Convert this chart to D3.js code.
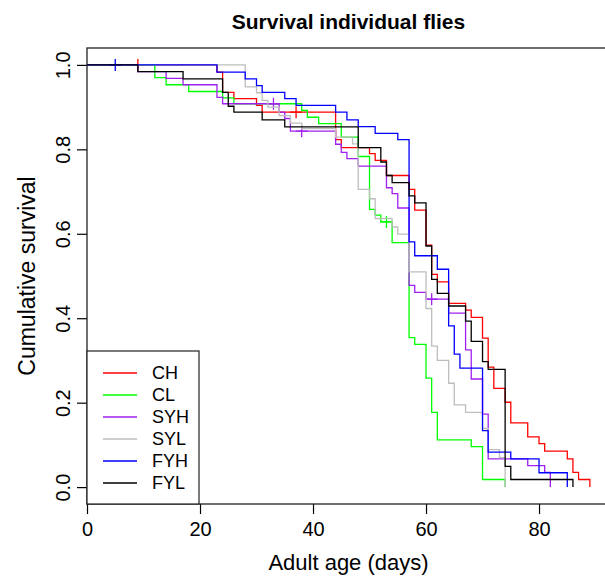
<!DOCTYPE html>
<html>
<head>
<meta charset="utf-8">
<script src="https://cdn.jsdelivr.net/npm/d3@7"></script>
<style>
  body { margin: 0; background: #fff; }
  text { font-family: "Liberation Sans", Arial, Helvetica, sans-serif; fill: #000; }
</style>
</head>
<body>
<div id="chart"></div>
<script>
// survival steps per group: [day, cumulative survival]
const groups = ['CH', 'CL', 'SYH', 'SYL', 'FYH', 'FYL'];
const colours = ['#ff0000', '#00ff00', '#a020f0', '#bebebe', '#0000ff', '#000000'];

const chSteps = [[0, 1], [23, 0.983], [24, 0.935], [26, 0.92], [30, 0.904], [31, 0.888], [44, 0.823], [45, 0.804],
  [50, 0.79], [51, 0.774], [53, 0.738], [57, 0.705], [58, 0.656], [60, 0.573], [61, 0.504], [62, 0.486],
  [64, 0.435], [67, 0.419], [68, 0.402], [70, 0.353], [71, 0.284], [72, 0.234], [74, 0.201], [75, 0.152],
  [78, 0.119], [80, 0.103], [81, 0.085], [85, 0.067], [86, 0.035], [87, 0.018], [89, 0]];
const clSteps = [[0, 1], [12, 0.97], [14, 0.953], [18, 0.937], [24, 0.922], [26, 0.908], [38, 0.892], [39, 0.876],
  [41, 0.861], [45, 0.829], [48, 0.783], [50, 0.658], [51, 0.644], [52, 0.628], [54, 0.579], [57, 0.354],
  [58, 0.338], [60, 0.258], [61, 0.177], [62, 0.112], [68, 0.096], [70, 0.018], [74, 0]];
const syhSteps = [[0, 1], [9, 0.984], [14, 0.968], [17, 0.953], [23, 0.923], [24, 0.908], [34, 0.888], [35, 0.873],
  [36, 0.843], [44, 0.812], [45, 0.793], [46, 0.778], [48, 0.76], [53, 0.709], [54, 0.695], [55, 0.661],
  [57, 0.478], [58, 0.461], [60, 0.445], [64, 0.412], [67, 0.325], [68, 0.256], [70, 0.173], [71, 0.067],
  [78, 0.051], [81, 0.035], [82, 0]];
const sylSteps = [[0, 1], [28, 0.948], [30, 0.934], [31, 0.916], [32, 0.9], [34, 0.88], [36, 0.862], [38, 0.849],
  [44, 0.829], [47, 0.813], [48, 0.705], [50, 0.683], [51, 0.636], [54, 0.616], [55, 0.599], [57, 0.51],
  [60, 0.423], [61, 0.334], [62, 0.3], [64, 0.246], [65, 0.195], [67, 0.177], [70, 0.139], [71, 0.089],
  [73, 0.07], [74, 0]];
const fyhSteps = [[0, 1], [23, 0.983], [28, 0.967], [30, 0.951], [31, 0.935], [35, 0.92], [37, 0.904], [44, 0.888],
  [46, 0.87], [48, 0.854], [51, 0.838], [55, 0.823], [57, 0.581], [58, 0.548], [62, 0.516], [64, 0.382],
  [65, 0.315], [66, 0.282], [70, 0.134], [71, 0.083], [75, 0.067], [80, 0.034], [85, 0]];
const fylSteps = [[0, 1], [9, 0.984], [17, 0.967], [24, 0.935], [25, 0.902], [26, 0.888], [31, 0.87], [35, 0.853],
  [48, 0.804], [52, 0.77], [53, 0.738], [54, 0.721], [57, 0.69], [58, 0.673], [60, 0.571], [61, 0.492],
  [62, 0.459], [64, 0.429], [67, 0.393], [68, 0.345], [70, 0.297], [71, 0.279], [74, 0.049], [75, 0.018], [86, 0]];

// censored flies (+ marks)
const chCensor = [[9, 1], [37, 0.888]];
const clCensor = [[53, 0.628]];
const syhCensor = [[33, 0.908], [38, 0.843], [61, 0.445]];
const sylCensor = [];
const fyhCensor = [[5, 1]];
const fylCensor = [];

const xTicks = [0, 20, 40, 60, 80];
const yTicks = [0, 0.2, 0.4, 0.6, 0.8, 1.0];

const allSteps = [chSteps, clSteps, syhSteps, sylSteps, fyhSteps, fylSteps];
const allCensor = [chCensor, clCensor, syhCensor, sylCensor, fyhCensor, fylCensor];

// ////////////////////////////////////////////////////////////////////////////
// SET UP
// ////////////////////////////////////////////////////////////////////////////
const width = 605;
const height = 577;
const box = { left: 87, right: 610, top: 48, bottom: 504 };

// survival plots start the x axis at 0 and pad 4% on the right
const xMax = 89 * 1.04;
const x = d3.scaleLinear().domain([0, xMax]).range([box.left, box.right]);
const y = d3.scaleLinear().domain([-0.04, 1.04]).range([box.bottom, box.top]);

const svg = d3.select('#chart').append('svg')
  .attr('width', width)
  .attr('height', height);

// title + axis labels
svg.append('text')
  .attr('x', (box.left + box.right) / 2)
  .attr('y', 29)
  .attr('text-anchor', 'middle')
  .style('font-size', '21px')
  .style('font-weight', 'bold')
  .text('Survival individual flies');

svg.append('text')
  .attr('x', (box.left + box.right) / 2)
  .attr('y', 570)
  .attr('text-anchor', 'middle')
  .style('font-size', '22px')
  .text('Adult age (days)');

svg.append('text')
  .attr('transform', `translate(35,${(box.top + box.bottom) / 2}) rotate(-90)`)
  .attr('text-anchor', 'middle')
  .style('font-size', '23px')
  .text('Cumulative survival');

// axes
const xAxis = svg.append('g')
  .attr('transform', `translate(0,${box.bottom})`)
  .call(d3.axisBottom(x).tickValues(xTicks).tickSize(10).tickPadding(8));
xAxis.select('.domain').remove();
xAxis.selectAll('text').style('font-size', '20px').attr('fill', '#000');

const yAxis = svg.append('g')
  .attr('transform', `translate(${box.left},0)`)
  .call(d3.axisLeft(y).tickValues(yTicks).tickFormat(d3.format('.1f')).tickSize(10));
yAxis.select('.domain').remove();
yAxis.selectAll('text')
  .attr('x', 0)
  .attr('dy', 0)
  .attr('transform', 'translate(-17,0) rotate(-90)')
  .attr('text-anchor', 'middle')
  .attr('fill', '#000')
  .style('font-size', '20px');
svg.selectAll('.tick line').attr('stroke', '#000').attr('stroke-width', 1.2);

// plot frame
svg.append('rect')
  .attr('x', box.left)
  .attr('y', box.top)
  .attr('width', box.right - box.left)
  .attr('height', box.bottom - box.top)
  .attr('fill', 'none')
  .attr('stroke', '#222')
  .attr('stroke-width', 1.3);

// ////////////////////////////////////////////////////////////////////////////
// CURVES
// ////////////////////////////////////////////////////////////////////////////
const stepLine = d3.line()
  .x(d => x(d[0]))
  .y(d => y(d[1]))
  .curve(d3.curveStepAfter);

allSteps.forEach((steps, i) => {
  svg.append('path')
    .datum(steps)
    .attr('d', stepLine)
    .attr('fill', 'none')
    .attr('stroke', colours[i])
    .attr('stroke-width', 1.3);

  // + marks for censored flies
  svg.selectAll(null)
    .data(allCensor[i])
    .enter()
    .append('path')
      .attr('d', d => {
        const cx = x(d[0]);
        const cy = y(d[1]);
        return `M${cx - 6},${cy}H${cx + 6}M${cx},${cy - 6}V${cy + 6}`;
      })
      .attr('stroke', colours[i])
      .attr('stroke-width', 1.3);
});

// ////////////////////////////////////////////////////////////////////////////
// LEGEND
// ////////////////////////////////////////////////////////////////////////////
const legend = svg.append('g');
legend.append('rect')
  .attr('x', box.left)
  .attr('y', 351)
  .attr('width', 112)
  .attr('height', box.bottom - 351)
  .attr('fill', '#fff')
  .attr('stroke', '#222')
  .attr('stroke-width', 1.2);

const row = legend.selectAll('g.row')
  .data(groups)
  .enter()
  .append('g')
    .attr('class', 'row')
    .attr('transform', (d, i) => `translate(0,${373 + i * 22})`);

row.append('line')
  .attr('x1', 103)
  .attr('x2', 137)
  .attr('stroke', (d, i) => colours[i])
  .attr('stroke-width', 1.3);

row.append('text')
  .attr('x', 152)
  .attr('dy', '0.36em')
  .style('font-size', '18px')
  .text(d => d);
</script>
</body>
</html>
